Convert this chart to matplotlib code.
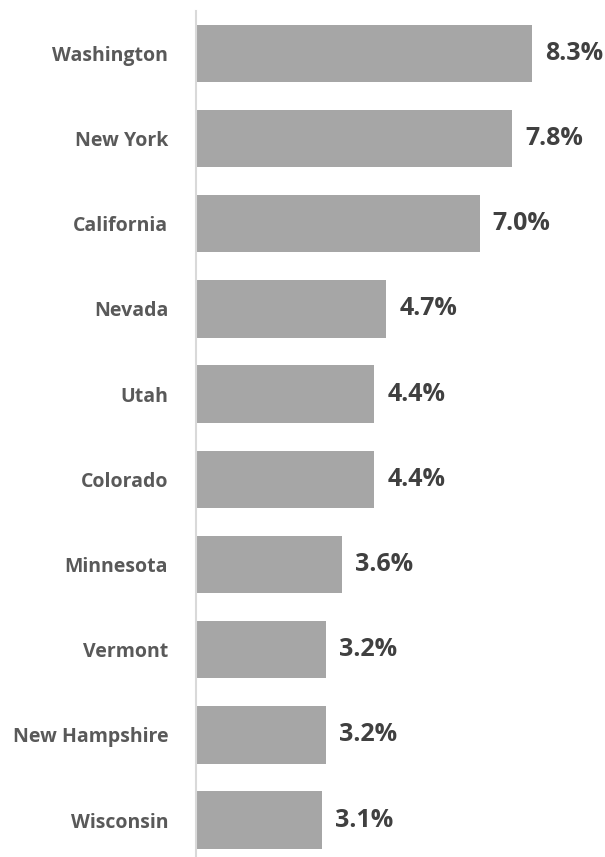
import matplotlib
matplotlib.use("Agg")
import matplotlib.pyplot as plt

states = ["Washington", "New York", "California", "Nevada", "Utah", "Colorado",
          "Minnesota", "Vermont", "New Hampshire", "Wisconsin"]
values = [8.3, 7.8, 7.0, 4.7, 4.4, 4.4, 3.6, 3.2, 3.2, 3.1]
labels = ["8.3%", "7.8%", "7.0%", "4.7%", "4.4%", "4.4%", "3.6%", "3.2%", "3.2%", "3.1%"]

W, H = 605, 857
fig = plt.figure(figsize=(W / 100, H / 100), dpi=100)
left = 196 / W
top_px = 10.7
span = 852
ax = fig.add_axes([left, 1 - (top_px + span) / H, 1 - left, span / H])

y = list(range(len(states)))
ax.barh(y, values, height=0.675, color="#a6a6a6", zorder=2)
ax.set_ylim(len(states) - 0.5, -0.5)
ax.set_xlim(0, (W - 196) / 40.5)

ax.set_yticks(y)
ax.set_yticklabels(states, fontsize=14, fontweight="bold", color="#595959",
                   family=["Open Sans", "DejaVu Sans"])
ax.tick_params(axis="y", length=0, pad=20)
ax.set_xticks([])

for s in ["top", "right", "bottom"]:
    ax.spines[s].set_visible(False)
ax.spines["left"].set_color("#d9d9d9")
ax.spines["left"].set_linewidth(1.5)
ax.spines["left"].set_zorder(3)

for yi, v, t in zip(y, values, labels):
    ax.annotate(t, (v, yi), xytext=(9.5, 0), textcoords="offset points",
                ha="left", va="center", fontsize=18, fontweight="bold",
                color="#404040", family=["Open Sans", "DejaVu Sans"])

fig.savefig("out.png", dpi=100)
